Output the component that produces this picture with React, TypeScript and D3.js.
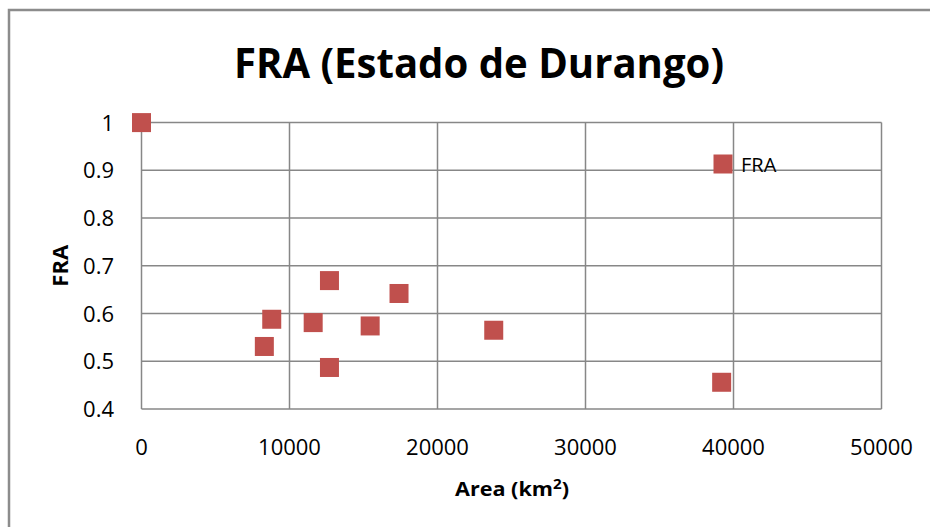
import React from "react";
import * as d3 from "d3";

const areaKm2 = [0, 8300, 8800, 11600, 12700, 12700, 15450, 17400, 23800, 39200];
const fraValues = [1.0, 0.531, 0.588, 0.581, 0.669, 0.487, 0.574, 0.642, 0.565, 0.456];
const xTicks = [0, 10000, 20000, 30000, 40000, 50000];
const yTicks = [0.4, 0.5, 0.6, 0.7, 0.8, 0.9, 1];
const seriesName = "FRA";
const titleText = "FRA (Estado de Durango)";

export default function App() {
  const W = 930, H = 527;
  const x = d3.scaleLinear().domain([0, 50000]).range([141.5, 881.5]);
  const y = d3.scaleLinear().domain([0.4, 1]).range([409, 122.6]);
  const grid = "#878787";
  const red = "#C0504D";
  const font = "'Open Sans', sans-serif";
  const ms = 19;
  return (
    <svg width={W} height={H} style={{ position: "absolute", left: 0, top: 0, background: "#fff" }}>
      <rect x={9} y={10} width={1000} height={1000} fill="#fff" stroke="#8c8c8c" strokeWidth={2.5} />
      <text x={479} y={78} textAnchor="middle" fontFamily={font} fontWeight="bold" fontSize={40.5}
        textLength={490} lengthAdjust="spacingAndGlyphs" fill="#000">{titleText}</text>
      {yTicks.map((t) => (
        <line key={"h" + t} x1={x(0)} x2={x(50000)} y1={y(t)} y2={y(t)} stroke={grid} strokeWidth={1.5} />
      ))}
      {xTicks.map((t) => (
        <line key={"v" + t} x1={x(t)} x2={x(t)} y1={y(0.4)} y2={y(1)} stroke={grid} strokeWidth={1.5} />
      ))}
      {yTicks.map((t) => (
        <text key={"yl" + t} x={114} y={y(t) + 8} textAnchor="end" fontFamily={font} fontSize={22} fill="#000">
          {d3.format("~g")(t)}
        </text>
      ))}
      {xTicks.map((t) => (
        <text key={"xl" + t} x={x(t)} y={455} textAnchor="middle" fontFamily={font} fontSize={22} fill="#000">
          {t}
        </text>
      ))}
      <text x={512} y={496} textAnchor="middle" fontFamily={font} fontWeight="bold" fontSize={20} fill="#000"
        textLength={114} lengthAdjust="spacingAndGlyphs">
        Area (km<tspan dy={-7} fontSize={14}>2</tspan><tspan dy={7}>)</tspan>
      </text>
      <text transform={`translate(68,${(y(0.4) + y(1)) / 2}) rotate(-90)`} textAnchor="middle" fontFamily={font}
        fontWeight="bold" fontSize={22} fill="#000">FRA</text>
      {areaKm2.map((a, i) => (
        <rect key={"p" + i} x={x(a) - ms / 2} y={y(fraValues[i]) - ms / 2} width={ms} height={ms} fill={red} />
      ))}
      <rect x={723 - ms / 2} y={164 - ms / 2} width={ms} height={ms} fill={red} />
      <text x={741} y={172} fontFamily={font} fontSize={20} fill="#000">{seriesName}</text>
    </svg>
  );
}
